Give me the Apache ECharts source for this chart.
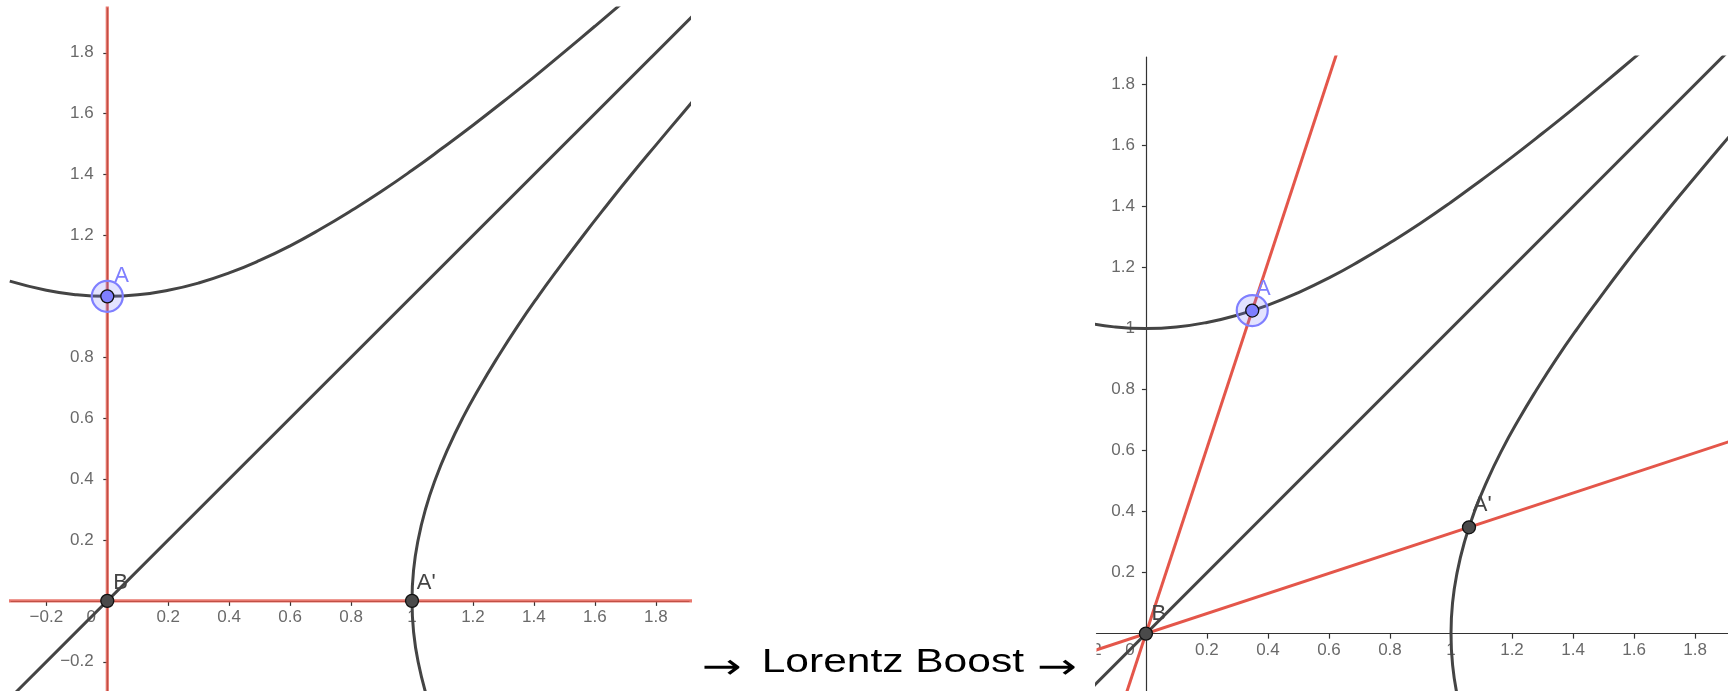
<!DOCTYPE html>
<html><head><meta charset="utf-8">
<script src="https://cdn.jsdelivr.net/npm/echarts@6/dist/echarts.min.js"></script>
<style>html,body{margin:0;padding:0;background:#fff}#c{width:1728px;height:691px}</style>
</head><body><div id="c"></div>
<script>
// ---------- tick labels ----------
const leftXTicks  = [-0.2, 0.2, 0.4, 0.6, 0.8, 1, 1.2, 1.4, 1.6, 1.8];
const leftYTicks  = [-0.2, 0.2, 0.4, 0.6, 0.8, 1.2, 1.4, 1.6, 1.8];
const rightXTicks = [-0.2, 0.2, 0.4, 0.6, 0.8, 1, 1.2, 1.4, 1.6, 1.8];
const rightYTicks = [0.2, 0.4, 0.6, 0.8, 1, 1.2, 1.4, 1.6, 1.8];
const originLabel = [0];

// ---------- curves (same in both frames) ----------
const upperHyperbola = [[-0.32,1.050],[-0.2,1.020],[-0.1,1.005],[0,1.000],[0.1,1.005],[0.2,1.020],[0.3,1.044],[0.4,1.077],[0.5,1.118],[0.6,1.166],[0.7,1.221],[0.8,1.281],[0.9,1.345],[1.0,1.414],[1.1,1.487],[1.2,1.562],[1.3,1.640],[1.4,1.720],[1.5,1.803],[1.6,1.887],[1.7,1.972]];
const rightHyperbola = [[1.050,-0.32],[1.020,-0.2],[1.005,-0.1],[1.000,0],[1.005,0.1],[1.020,0.2],[1.044,0.3],[1.077,0.4],[1.118,0.5],[1.166,0.6],[1.221,0.7],[1.281,0.8],[1.345,0.9],[1.414,1.0],[1.487,1.1],[1.562,1.2],[1.640,1.3],[1.720,1.4],[1.803,1.5],[1.887,1.6],[1.972,1.7]];
const lightCone = [[-0.35,-0.35],[1.95,1.95]];

// ---------- left frame (rest) ----------
const leftTAxis = [[0,-0.35],[0,2.0]];
const leftXAxisLine = [[-0.35,0],[1.95,0]];
const leftPointA = [0, 1];
const leftPointB = [0, 0];
const leftPointA2 = [1, 0];

// ---------- right frame (boosted) ----------
const rightTAxis = [[-0.07,-0.213],[0.64,1.946]];
const rightXAxisLine = [[-0.2,-0.066],[1.95,0.642]];
const rightPointA = [0.3485, 1.059];
const rightPointB = [0, 0];
const rightPointA2 = [1.059, 0.3485];

const FONT = '"Liberation Sans", Arial, sans-serif';
const AXIS_COL = '#333';
const LABEL_COL = '#444';
const CURVE_COL = '#444';
const RED = '#e4564a';
const BLUE = '#7f7fff';

function fmt(v) {
  return v < 0 ? '\u2212' + Math.abs(v) : String(v);
}

function axisCfg(grid, min, max, ticks, tickLen) {
  return {
    type: 'value', gridIndex: grid, min: min, max: max,
    axisLine: { onZero: true, lineStyle: { color: AXIS_COL, width: 1.2 } },
    splitLine: { show: false },
    axisTick: { show: true, length: tickLen, customValues: ticks, lineStyle: { color: AXIS_COL, width: 1.2 } },
    axisLabel: { show: false }
  };
}

// tick-label series: labels placed through the axes' own scales
function tickLabels(idx, values, isX, distance) {
  return {
    type: 'scatter', xAxisIndex: idx, yAxisIndex: idx, silent: true, clip: false, z: 1,
    symbolSize: 0.1, itemStyle: { color: 'rgba(0,0,0,0)' },
    data: values.map(v => isX ? [v, 0] : [0, v]),
    label: {
      show: true, position: isX ? 'bottom' : 'left', distance: distance,
      formatter: p => fmt(isX ? p.value[0] : p.value[1]),
      fontFamily: FONT, fontSize: 17, color: LABEL_COL
    }
  };
}
function originTickLabel(idx) {
  return {
    type: 'scatter', xAxisIndex: idx, yAxisIndex: idx, silent: true, clip: false, z: 1,
    symbolSize: 0.1, itemStyle: { color: 'rgba(0,0,0,0)' },
    data: originLabel.map(v => [v, v]),
    label: {
      show: true, position: 'bottom', distance: 8, offset: [-16, 0],
      formatter: p => fmt(p.value[0]),
      fontFamily: FONT, fontSize: 17, color: LABEL_COL
    }
  };
}

function lineSeries(idx, data, color, width, z, opacity) {
  return {
    type: 'line', xAxisIndex: idx, yAxisIndex: idx, data: data,
    showSymbol: false, symbol: 'none', smooth: true, z: z, silent: true,
    lineStyle: { color: color, width: width, opacity: opacity == null ? 1 : opacity }
  };
}
function pointLabel(text, pos, color) {
  return { show: true, formatter: text, position: pos, align: 'left', verticalAlign: 'middle',
           fontFamily: FONT, fontSize: 22, color: color };
}
function pointSeries(idx, A, B, A2, posA, posB, posA2) {
  return [
    { type: 'scatter', xAxisIndex: idx, yAxisIndex: idx, z: 8, silent: true,
      symbolSize: 31, data: [A],
      itemStyle: { color: 'rgba(127,127,255,0.22)', borderColor: BLUE, borderWidth: 2.2, opacity: 1 } },
    { type: 'scatter', xAxisIndex: idx, yAxisIndex: idx, z: 9, silent: true,
      symbolSize: 13,
      data: [
        { value: A, itemStyle: { color: BLUE }, label: pointLabel('A', posA, BLUE) },
        { value: B, itemStyle: { color: '#4a4a4a' }, label: pointLabel('B', posB, LABEL_COL) },
        { value: A2, itemStyle: { color: '#4a4a4a' }, label: pointLabel("A'", posA2, LABEL_COL) }
      ],
      itemStyle: { borderColor: '#111', borderWidth: 1.3, opacity: 1 } }
  ];
}

const chart = echarts.init(document.getElementById('c'), null, { renderer: 'canvas' });
chart.setOption({
  animation: false,
  backgroundColor: '#fff',
  grid: [
    { left: 11, top: 8, width: 678, height: 683, outerBoundsMode: 'none', containLabel: false },
    { left: 1096.5, top: 57, width: 631.5, height: 634, outerBoundsMode: 'none', containLabel: false }
  ],
  xAxis: [ axisCfg(0, -0.316, 1.909, leftXTicks, 5), axisCfg(1, -0.162, 1.908, rightXTicks, 5) ],
  yAxis: [ axisCfg(0, -0.296, 1.947, leftYTicks, 4), axisCfg(1, -0.188, 1.89, rightYTicks, 4) ],
  series: [
    tickLabels(0, leftXTicks, true, 8),
    tickLabels(0, leftYTicks, false, 13.5),
    originTickLabel(0),
    tickLabels(1, rightXTicks, true, 8),
    tickLabels(1, rightYTicks, false, 11),
    originTickLabel(1),
    lineSeries(0, upperHyperbola, CURVE_COL, 3, 3),
    lineSeries(0, rightHyperbola, CURVE_COL, 3, 3),
    lineSeries(0, lightCone, CURVE_COL, 3, 3),
    lineSeries(0, leftTAxis, RED, 3.2, 4, 0.8),
    lineSeries(0, leftXAxisLine, RED, 3.2, 4, 0.8),
    lineSeries(1, upperHyperbola, CURVE_COL, 3, 3),
    lineSeries(1, rightHyperbola, CURVE_COL, 3, 3),
    lineSeries(1, lightCone, CURVE_COL, 3, 3),
    lineSeries(1, rightTAxis, RED, 3, 4),
    lineSeries(1, rightXAxisLine, RED, 3, 4)
  ].concat(
    pointSeries(0, leftPointA, leftPointB, leftPointA2, [14, -13.7], [13, -11.2], [12, -11.2]),
    pointSeries(1, rightPointA, rightPointB, rightPointA2, [10.9, -14.8], [12.8, -12.8], [10.9, -15.2])
  ),
  graphic: [
    { type: 'rect', left: 1060, top: 638, z: 100, shape: { width: 36.5, height: 24 }, style: { fill: '#fff' } },
    { type: 'text', x: 701.7, y: 669, z: 101, scaleX: 1.36,
      style: { text: '\u2192', font: '35px "DejaVu Sans"', fill: '#000', verticalAlign: 'middle', align: 'left' } },
    { type: 'text', x: 761.7, y: 663, z: 101, scaleX: 1.25,
      style: { text: 'Lorentz Boost', font: '34px "Liberation Sans"', fill: '#000', verticalAlign: 'middle', align: 'left' } },
    { type: 'text', x: 1037, y: 669, z: 101, scaleX: 1.36,
      style: { text: '\u2192', font: '35px "DejaVu Sans"', fill: '#000', verticalAlign: 'middle', align: 'left' } }
  ]
});
</script></body></html>
